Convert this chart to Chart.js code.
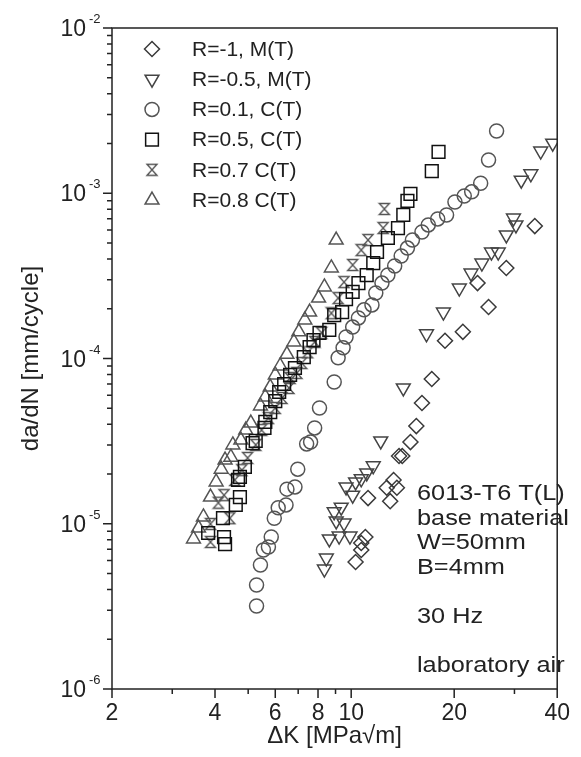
<!DOCTYPE html>
<html>
<head>
<meta charset="utf-8">
<title>da/dN - ΔK, 6013-T6</title>
<script src="https://cdn.jsdelivr.net/npm/chart.js"></script>
<style>
  html, body { margin: 0; padding: 0; background: #fff; }
  #wrap { width: 581px; height: 757px; }
</style>
</head>
<body>
<div id="wrap"><canvas id="grafico" width="581" height="757"></canvas></div>
<script>
// da/dN vs dK, 6013-T6 T(L), one pair of arrays per R ratio
const dkRm1 = [34.4, 28.4, 23.4, 25.2, 21.2, 18.8, 17.2, 16.1, 15.5, 14.9, 14.1, 13.8, 13.3, 13.6, 12.7, 13.0, 11.2, 11.0, 10.7, 10.7, 10.3];
const rateRm1 = [6.33e-4, 3.53e-4, 2.86e-4, 2.05e-4, 1.45e-4, 1.28e-4, 7.51e-5, 5.38e-5, 3.90e-5, 3.12e-5, 2.57e-5, 2.57e-5, 1.84e-5, 1.65e-5, 1.65e-5, 1.37e-5, 1.43e-5, 8.31e-6, 7.65e-6, 6.94e-6, 5.87e-6];

const dkRm05 = [38.8, 35.8, 33.5, 31.4, 29.8, 30.3, 28.4, 26.9, 25.7, 24.1, 22.4, 20.7, 18.6, 16.6, 14.2, 12.2, 11.6, 11.1, 10.7, 10.3, 9.66, 10.1, 9.35, 8.92, 9.04, 9.53, 8.63, 9.22, 9.92, 8.46, 8.35];
const rateRm05 = [2.01e-3, 1.80e-3, 1.31e-3, 1.20e-3, 7.08e-4, 6.43e-4, 5.59e-4, 4.41e-4, 4.41e-4, 3.78e-4, 3.29e-4, 2.67e-4, 1.91e-4, 1.41e-4, 6.63e-5, 3.17e-5, 2.24e-5, 2.03e-5, 1.87e-5, 1.79e-5, 1.67e-5, 1.49e-5, 1.26e-5, 1.18e-5, 1.04e-5, 1.01e-5, 8.09e-6, 8.43e-6, 8.43e-6, 6.20e-6, 5.32e-6];

const dkR01 = [26.6, 25.2, 23.9, 22.5, 21.4, 20.1, 19.0, 17.9, 16.8, 16.1, 15.1, 14.6, 14.0, 13.4, 12.8, 12.3, 11.8, 11.5, 10.9, 10.5, 10.1, 9.66, 9.47, 9.16, 8.92, 8.08, 7.82, 7.61, 7.41, 6.98, 6.85, 6.49, 6.45, 6.12, 5.96, 5.84, 5.73, 5.54, 5.43, 5.29, 5.29];
const rateR01 = [2.38e-3, 1.59e-3, 1.15e-3, 1.02e-3, 9.62e-4, 8.85e-4, 7.39e-4, 6.99e-4, 6.43e-4, 5.83e-4, 5.21e-4, 4.66e-4, 4.17e-4, 3.63e-4, 3.20e-4, 2.86e-4, 2.49e-4, 2.11e-4, 1.97e-4, 1.76e-4, 1.55e-4, 1.35e-4, 1.16e-4, 1.01e-4, 7.21e-5, 5.02e-5, 3.80e-5, 3.12e-5, 3.04e-5, 2.14e-5, 1.67e-5, 1.62e-5, 1.30e-5, 1.25e-5, 1.08e-5, 8.31e-6, 7.23e-6, 6.94e-6, 5.63e-6, 4.26e-6, 3.18e-6];

const dkR05 = [18.0, 17.2, 14.9, 14.6, 14.2, 13.7, 12.8, 11.9, 11.6, 11.1, 10.5, 10.1, 9.66, 9.41, 8.92, 8.63, 8.08, 7.76, 7.56, 7.27, 6.85, 6.63, 6.37, 6.16, 6.00, 5.80, 5.61, 5.58, 5.26, 5.15, 4.89, 4.73, 4.67, 4.73, 4.60, 4.22, 3.82, 4.25, 4.28];
const rateR05 = [1.78e-3, 1.36e-3, 9.90e-4, 8.98e-4, 7.39e-4, 6.16e-4, 5.36e-4, 4.41e-4, 3.78e-4, 3.20e-4, 2.86e-4, 2.53e-4, 2.29e-4, 1.91e-4, 1.83e-4, 1.49e-4, 1.43e-4, 1.29e-4, 1.17e-4, 1.02e-4, 8.76e-5, 7.95e-5, 7.01e-5, 6.27e-5, 5.53e-5, 4.74e-5, 4.13e-5, 3.80e-5, 3.17e-5, 3.08e-5, 2.21e-5, 1.92e-5, 1.84e-5, 1.45e-5, 1.30e-5, 1.08e-5, 8.79e-6, 8.31e-6, 7.54e-6];

const dkR07 = [12.5, 12.4, 11.2, 10.7, 10.1, 9.53, 9.16, 8.75, 8.19, 7.82, 7.46, 7.17, 6.94, 6.63, 6.58, 6.28, 6.00, 5.73, 5.47, 5.26, 4.98, 4.79, 4.57, 4.25, 4.09, 4.42, 3.88, 3.88];
const rateR07 = [8.03e-4, 6.16e-4, 5.21e-4, 4.53e-4, 3.68e-4, 2.90e-4, 2.32e-4, 1.88e-4, 1.43e-4, 1.26e-4, 1.09e-4, 9.39e-5, 8.18e-5, 7.62e-5, 6.63e-5, 5.77e-5, 5.02e-5, 4.36e-5, 3.69e-5, 3.00e-5, 2.50e-5, 2.11e-5, 1.84e-5, 1.49e-5, 1.34e-5, 1.08e-5, 9.97e-6, 7.76e-6];

const dkR08 = [9.04, 8.75, 8.35, 8.03, 7.56, 7.32, 7.03, 6.80, 6.49, 6.20, 6.00, 5.80, 5.61, 5.43, 5.09, 4.92, 4.76, 4.51, 4.45, 4.28, 4.17, 4.03, 3.88, 3.70, 3.58, 3.46];
const rateR08 = [5.21e-4, 3.53e-4, 2.71e-4, 2.32e-4, 1.91e-4, 1.71e-4, 1.45e-4, 1.26e-4, 1.06e-4, 9.01e-5, 7.95e-5, 6.72e-5, 5.85e-5, 5.16e-5, 4.07e-5, 3.69e-5, 3.21e-5, 3.00e-5, 2.53e-5, 2.43e-5, 2.14e-5, 1.79e-5, 1.45e-5, 1.10e-5, 9.42e-6, 8.09e-6];

const legendLabels = ['R=-1, M(T)', 'R=-0.5, M(T)', 'R=0.1, C(T)', 'R=0.5, C(T)', 'R=0.7 C(T)', 'R=0.8 C(T)'];
const xTickLabels = [2, 4, 6, 8, 10, 20, 40];
const xMinorTicks = [3, 5, 7, 9, 30];
const yDecades = [-6, -5, -4, -3, -2];
const infoLines = ['6013-T6 T(L)', 'base material', 'W=50mm', 'B=4mm', '', '30 Hz', '', 'laboratory air'];

const FONTE = '"Liberation Sans", Arial, sans-serif';
const TINTA = '#222';

// hourglass marker, no built-in point style for it
const ampulheta = (() => {
  const c = document.createElement('canvas');
  c.width = 14; c.height = 14;
  const g = c.getContext('2d');
  g.strokeStyle = '#555';
  g.lineWidth = 1.4;
  g.beginPath();
  g.moveTo(2, 1.5); g.lineTo(12, 1.5); g.lineTo(2, 12.5); g.lineTo(12, 12.5);
  g.closePath();
  g.stroke();
  return c;
})();

const serie = (label, xs, ys, style, radius, color, extra) => Object.assign({
  label: label,
  data: xs.map((x, i) => ({ x: x, y: ys[i] })),
  pointStyle: style,
  pointRadius: radius,
  pointBorderWidth: 1.5,
  borderColor: color,
  backgroundColor: 'rgba(0,0,0,0)',
  showLine: false
}, extra || {});

const datasets = [
  serie(legendLabels[0], dkRm1, rateRm1, 'rectRot', 7.5, '#3a3a3a'),
  serie(legendLabels[1], dkRm05, rateRm05, 'triangle', 8, '#444', { pointRotation: 180 }),
  serie(legendLabels[2], dkR01, rateR01, 'circle', 7, '#555'),
  serie(legendLabels[3], dkR05, rateR05, 'rect', 9, '#111'),
  serie(legendLabels[4], dkR07, rateR07, ampulheta, 7, '#555'),
  serie(legendLabels[5], dkR08, rateR08, 'triangle', 8, '#555')
];

// frame, outward ticks, 10^n labels, legend and test info
const moldura = {
  id: 'moldura',
  afterDraw(chart) {
    const { ctx, chartArea: a, scales: { x, y } } = chart;
    ctx.save();
    ctx.strokeStyle = TINTA;
    ctx.lineWidth = 1.5;
    ctx.strokeRect(a.left, a.top, a.right - a.left, a.bottom - a.top);

    ctx.beginPath();
    xTickLabels.forEach(v => {
      const px = x.getPixelForValue(v);
      ctx.moveTo(px, a.bottom); ctx.lineTo(px, a.bottom + 9);
    });
    xMinorTicks.forEach(v => {
      const px = x.getPixelForValue(v);
      ctx.moveTo(px, a.bottom); ctx.lineTo(px, a.bottom + 5);
    });
    yDecades.forEach(e => {
      const py = y.getPixelForValue(Math.pow(10, e));
      ctx.moveTo(a.left, py); ctx.lineTo(a.left - 9, py);
      if (e < yDecades[yDecades.length - 1]) {
        for (let m = 2; m <= 9; m++) {
          const pm = y.getPixelForValue(m * Math.pow(10, e));
          ctx.moveTo(a.left, pm); ctx.lineTo(a.left - 5, pm);
        }
      }
    });
    ctx.stroke();

    // y labels as 10 with raised exponent
    ctx.fillStyle = TINTA;
    ctx.textBaseline = 'alphabetic';
    yDecades.forEach(e => {
      const py = y.getPixelForValue(Math.pow(10, e));
      ctx.font = '23px ' + FONTE;
      ctx.textAlign = 'right';
      ctx.fillText('10', a.left - 26, py + 8);
      ctx.font = '13px ' + FONTE;
      ctx.textAlign = 'left';
      ctx.fillText(String(e), a.left - 23, py - 5);
    });

    // legend
    chart.data.datasets.forEach((ds, i) => {
      const ly = a.top + 21 + i * 30.2;
      ctx.strokeStyle = ds.borderColor;
      ctx.fillStyle = 'rgba(0,0,0,0)';
      ctx.lineWidth = ds.pointBorderWidth;
      Chart.helpers.drawPoint(ctx, {
        pointStyle: ds.pointStyle,
        rotation: ds.pointRotation || 0,
        radius: ds.pointRadius,
        borderWidth: ds.pointBorderWidth
      }, a.left + 40, ly);
      ctx.fillStyle = TINTA;
      ctx.font = '21px ' + FONTE;
      ctx.textAlign = 'left';
      ctx.textBaseline = 'middle';
      ctx.fillText(ds.label, a.left + 80, ly + 1);
    });

    // test conditions, lower right
    ctx.fillStyle = TINTA;
    ctx.textBaseline = 'alphabetic';
    ctx.textAlign = 'left';
    ctx.font = '22px ' + FONTE;
    infoLines.forEach((t, i) => {
      if (!t) return;
      ctx.save();
      ctx.translate(417, 500 + i * 24.6);
      ctx.scale(1.15, 1);
      ctx.fillText(t, 0, 0);
      ctx.restore();
    });
    ctx.restore();
  }
};

new Chart(document.getElementById('grafico'), {
  type: 'scatter',
  data: { datasets: datasets },
  options: {
    responsive: false,
    animation: false,
    events: [],
    layout: { padding: { top: 28, right: 16, left: 0, bottom: 0 } },
    plugins: { legend: { display: false }, tooltip: { enabled: false } },
    scales: {
      x: {
        type: 'logarithmic',
        min: 2,
        max: 40,
        grid: { display: false, drawTicks: false },
        border: { display: false },
        afterBuildTicks: s => { s.ticks = xTickLabels.map(v => ({ value: v })); },
        afterFit: s => { s.height = 68; },
        ticks: {
          autoSkip: false,
          maxRotation: 0,
          padding: 11,
          color: TINTA,
          font: { family: FONTE, size: 23 },
          callback: v => String(v)
        },
        title: {
          display: true,
          text: 'ΔK [MPa√m]',
          color: TINTA,
          font: { family: FONTE, size: 24 },
          padding: { top: 0, bottom: 6 }
        }
      },
      y: {
        type: 'logarithmic',
        min: 1e-6,
        max: 1e-2,
        grid: { display: false, drawTicks: false },
        border: { display: false },
        ticks: { display: false },
        afterFit: s => { s.width = 112; },
        title: {
          display: true,
          text: 'da/dN [mm/cycle]',
          color: TINTA,
          font: { family: FONTE, size: 24 },
          padding: { top: 17, bottom: 0 }
        }
      }
    }
  },
  plugins: [moldura]
});
</script>
</body>
</html>
